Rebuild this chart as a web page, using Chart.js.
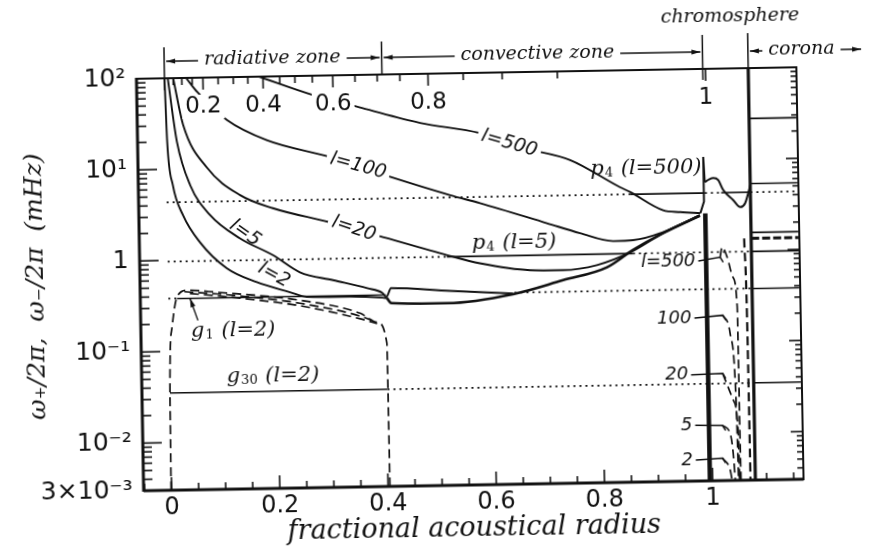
<!DOCTYPE html>
<html>
<head>
<meta charset="utf-8">
<script src="https://cdn.jsdelivr.net/npm/chart.js@4.4.1/dist/chart.umd.min.js"></script>
<style>
  html, body { margin: 0; padding: 0; background: #fff; overflow: hidden; }
  #wrap { position: relative; width: 874px; height: 548px; }
  /* the scanned figure sits about one degree off square */
  #myChart { position: absolute; left: 0; top: 0; transform-origin: 470px 279px; transform: rotate(-1deg); }
</style>
</head>
<body>
<div id="wrap"><canvas id="myChart" width="874" height="548"></canvas></div>
<script>
const ink = '#111';

// omega+ curves, [fractional acoustical radius, mHz]
const l500 = [[0.175, 100], [0.274, 61.4], [0.364, 43.3], [0.471, 28.9], [0.581, 21.8], [0.655, 15.0], [0.747, 10.6], [0.838, 5.23], [0.857, 4.59], [0.917, 2.86], [0.949, 2.71], [0.986, 2.62]];
const l100 = [[0.040, 100], [0.047, 87.7], [0.060, 69.8], [0.114, 33.9], [0.187, 20.0], [0.303, 12.7], [0.400, 8.0], [0.524, 4.6], [0.579, 3.71], [0.702, 2.17], [0.763, 1.66], [0.824, 1.34], [0.861, 1.36], [0.916, 1.64], [0.985, 2.49]];
const l20 = [[0.016, 100], [0.033, 30.5], [0.076, 10.2], [0.136, 5.05], [0.196, 3.58], [0.300, 2.45], [0.390, 1.70], [0.517, 1.01], [0.577, 0.81], [0.669, 0.667], [0.730, 0.657], [0.793, 0.735], [0.855, 1.0], [0.916, 1.6], [0.985, 2.45]];
const l5 = [[0.006, 100], [0.021, 19.9], [0.044, 6.65], [0.080, 3.08], [0.134, 1.70], [0.195, 1.09], [0.244, 0.70], [0.305, 0.565], [0.368, 0.454], [0.396, 0.40], [0.403, 0.36], [0.412, 0.45], [0.520, 0.41], [0.637, 0.372]];
const l2 = [[0.000, 100], [0.003, 20.0], [0.012, 6.7], [0.030, 3.1], [0.060, 1.57], [0.109, 0.80], [0.164, 0.555], [0.225, 0.425], [0.256, 0.375], [0.336, 0.37], [0.396, 0.355], [0.404, 0.35]];
const envelope = [[0.404, 0.35], [0.412, 0.308], [0.515, 0.30], [0.637, 0.366], [0.730, 0.51], [0.812, 0.695], [0.860, 1.06], [0.916, 1.6], [0.985, 2.45]];

// chromosphere / corona
const chromSpike = [[0.986, 2.62], [0.993, 3.5], [0.993, 10.8], [0.995, 5.72]];
const chromCutoff = [[0.995, 5.72], [1.003, 6.1], [1.011, 6.3], [1.020, 5.98], [1.029, 4.63], [1.047, 3.58], [1.060, 2.99], [1.069, 3.30], [1.075, 4.24], [1.079, 5.18]];
const chromEdge = [[0.995, 0.003], [0.995, 2.6]];
const coronaEdge = [[1.079, 0.003], [1.079, 100]];

// omega- curves (dashed)
const gL2 = [[-0.001, 0.003], [0.000, 0.0347], [0.006, 0.185], [0.016, 0.394], [0.035, 0.467], [0.090, 0.438], [0.243, 0.345], [0.354, 0.242], [0.385, 0.191], [0.4025, 0.112], [0.403, 0.0316], [0.4035, 0.003]];
const gInnerA = [[0.030, 0.45], [0.090, 0.42], [0.243, 0.32], [0.354, 0.225], [0.385, 0.191]];
const gInnerB = [[0.040, 0.43], [0.090, 0.40], [0.243, 0.30], [0.354, 0.21], [0.385, 0.185]];
const chrom500 = [[1.021, 0.85], [1.025, 1.10], [1.034, 0.85], [1.044, 0.51], [1.051, 0.238], [1.0515, 0.08], [1.052, 0.0082], [1.0525, 0.003]];
const chrom100 = [[1.024, 0.196], [1.037, 0.124], [1.046, 0.021], [1.048, 0.003]];
const chrom20 = [[1.022, 0.045], [1.041, 0.0227], [1.049, 0.0098], [1.050, 0.003]];
const chrom5 = [[1.020, 0.0121], [1.034, 0.0098], [1.039, 0.0059], [1.042, 0.003]];
const chrom2 = [[1.019, 0.0053], [1.033, 0.00387], [1.036, 0.003]];
const chromOuter = [[1.066, 1.35], [1.069, 0.122], [1.070, 0.003]];

// mode frequencies (mHz) and where they are drawn solid / dotted
const p4l500 = 4.34, p4l5 = 0.97, g1l2 = 0.38, g30l2 = 0.035;
const p4l500Solid = [[0.857, 0.995], [1.025, 1.079]];
const p4l500Dotted = [[0, 0.857], [0.995, 1.025], [1.079, 1.166]];
const p4l5Solid = [[0.516, 0.86], [1.079, 1.166]];
const p4l5Dotted = [[0, 0.516], [0.86, 1.079]];
const g1Solid = [[0.016, 0.402], [1.079, 1.166]];
const g1Dotted = [[0, 0.016], [0.64, 1.079]];
const g30Solid = [[0, 0.402], [1.079, 1.166]];
const g30Dotted = [[0.402, 1.079]];
const coronaSolid = [28, 5.4, 1.57];
const coronaDashed = [1.35];

// axes
const xLabelVals = [0, 0.2, 0.4, 0.6, 0.8, 1];
const xLabelText = ['0', '0.2', '0.4', '0.6', '0.8', '1'];
const yLabelVals = [0.003, 0.01, 0.1, 1, 10, 100];
const yLabelText = ['3×10⁻³', '10⁻²', '10⁻¹', '1', '10¹', '10²'];
const radiusTickAt = [0, 0.016, 0.032, 0.051, 0.071, 0.099, 0.127, 0.154, 0.182, 0.213, 0.241, 0.273, 0.311, 0.352, 0.393, 0.435, 0.487, 0.552, 0.624, 0.726, 1.0];
const radiusLabels = ['0.2', '0.4', '0.6', '0.8', '1'];
const radiusLabelAt = [0.071, 0.182, 0.311, 0.487, 1.0];

const xTickVals = [];
for (let i = -1; i <= 23; i++) xTickVals.push(Math.round(i * 5) / 100);
const yTickVals = [];
[0.001, 0.01, 0.1, 1, 10].forEach(d => {
    for (let m = 1; m <= 9; m++) if (m * d >= 0.003) yTickVals.push(Number((m * d).toPrecision(6)));
});
yTickVals.push(100);

// text placed in the plot
const curveLabels = [
    { text: 'l=500', x: 0.635, y: 16.5, angle: 17, gap: true },
    { text: 'l=100', x: 0.355, y: 10.0, angle: 16, gap: true },
    { text: 'l=20', x: 0.345, y: 2.05, angle: 19, gap: true },
    { text: 'l=5', x: 0.144, y: 1.93, angle: 36, gap: false },
    { text: 'l=2', x: 0.196, y: 0.657, angle: 30, gap: false }
];
const modeLabels = [
    { main: 'p', sub: '4', rest: ' (l=500)', x: 0.885, y: 8.4 },
    { main: 'p', sub: '4', rest: ' (l=5)', x: 0.639, y: 1.36 },
    { main: 'g', sub: '1', rest: ' (l=2)', x: 0.117, y: 0.167 },
    { main: 'g', sub: '30', rest: ' (l=2)', x: 0.189, y: 0.0524 }
];
const chromLabels = [
    { text: 'l=500', x: 0.975, y: 0.78, to: chrom500[0] },
    { text: '100', x: 0.966, y: 0.185, to: chrom100[0] },
    { text: '20', x: 0.958, y: 0.044, to: chrom20[0] },
    { text: '5', x: 0.964, y: 0.0123, to: chrom5[0] },
    { text: '2', x: 0.964, y: 0.0051, to: chrom2[0] }
];
const zones = [
    { text: 'radiative zone', from: 0, to: 0.402, at: 0.2 },
    { text: 'convective zone', from: 0.402, to: 0.995, at: 0.69 },
    { text: 'corona', from: 1.079, to: 1.292, at: 1.178 }
];

function labelFor(v, vals, texts) {
    const i = vals.findIndex(t => Math.abs(t - v) < 1e-6 * Math.max(1, Math.abs(t)) + 1e-9);
    return i < 0 ? '' : texts[i];
}

function curve(points, extra) {
    return Object.assign({
        data: points.map(([x, y]) => ({ x, y })),
        showLine: true, pointRadius: 0, borderColor: ink, borderWidth: 1.9,
        fill: false, cubicInterpolationMode: 'monotone'
    }, extra);
}
const dotted = { borderDash: [2, 4], borderWidth: 1.7, cubicInterpolationMode: 'default', tension: 0 };
const dashed = { borderDash: [9, 5], borderWidth: 1.7 };

const datasets = [
    curve(l500), curve(l100), curve(l20), curve(l5), curve(l2),
    curve(envelope, { borderWidth: 2.6 }),
    curve(chromSpike, { cubicInterpolationMode: 'default', tension: 0, borderWidth: 2 }),
    curve(chromCutoff, { borderWidth: 2 }),
    curve(chromEdge, { cubicInterpolationMode: 'default', tension: 0, borderWidth: 4.5 }),
    curve(coronaEdge, { cubicInterpolationMode: 'default', tension: 0, borderWidth: 3.2 }),
    curve(gL2, dashed), curve(gInnerA, dashed), curve(gInnerB, dashed),
    curve(chrom500, dashed), curve(chrom100, dashed), curve(chrom20, dashed),
    curve(chrom5, dashed), curve(chrom2, dashed),
    curve(chromOuter, Object.assign({}, dashed, { borderWidth: 2.2 }))
];
function level(y, ranges, extra) {
    ranges.forEach(([x0, x1]) => datasets.push(curve([[x0, y], [x1, y]], extra)));
}
level(p4l500, p4l500Solid, { borderWidth: 1.6 });
level(p4l500, p4l500Dotted, dotted);
level(p4l5, p4l5Solid, { borderWidth: 1.6 });
level(p4l5, p4l5Dotted, dotted);
level(g1l2, g1Solid, { borderWidth: 1.6 });
level(g1l2, g1Dotted, dotted);
level(g30l2, g30Solid, { borderWidth: 1.6 });
level(g30l2, g30Dotted, dotted);
coronaSolid.forEach(v => level(v, [[1.079, 1.166]], { borderWidth: 1.6 }));
coronaDashed.forEach(v => level(v, [[1.079, 1.166]], { borderWidth: 3, borderDash: [8, 3] }));

const paper = {
    id: 'paper',
    beforeDraw(chart) {
        const c = chart.ctx;
        c.save();
        c.fillStyle = '#fff';
        c.fillRect(0, 0, chart.width, chart.height);
        c.restore();
    },
    afterDatasetsDraw(chart) {
        const c = chart.ctx, a = chart.chartArea, xs = chart.scales.x, ys = chart.scales.y;
        const X = v => xs.getPixelForValue(v), Y = v => ys.getPixelForValue(v);
        const seg = (x0, y0, x1, y1) => { c.beginPath(); c.moveTo(x0, y0); c.lineTo(x1, y1); c.stroke(); };
        const head = (x, y, dir) => {
            c.beginPath(); c.moveTo(x, y); c.lineTo(x - dir * 9, y - 2.5); c.lineTo(x - dir * 9, y + 2.5);
            c.closePath(); c.fill();
        };
        c.save();
        c.strokeStyle = ink; c.fillStyle = ink; c.setLineDash([]); c.lineCap = 'butt';

        // frame
        c.lineWidth = 2;
        c.strokeRect(a.left, a.top, a.right - a.left, a.bottom - a.top);
        c.lineWidth = 3;
        seg(a.left, a.top - 1, a.left, a.bottom + 1);
        seg(a.left, a.bottom, a.right, a.bottom);

        // inward ticks
        c.lineWidth = 1.6;
        ys.ticks.forEach(t => {
            const yy = Y(t.value), big = labelFor(t.value, yLabelVals, yLabelText) !== '';
            seg(a.left, yy, a.left + (big ? 19 : 9), yy);
            seg(a.right, yy, a.right - (big ? 12 : 6), yy);
        });
        xs.ticks.forEach(t => {
            const xx = X(t.value), big = labelFor(t.value, xLabelVals, xLabelText) !== '';
            seg(xx, a.bottom, xx, a.bottom - (big ? 13 : 7));
        });
        radiusTickAt.forEach((v, i) => {
            const xx = X(v);
            seg(xx, a.top, xx, a.top + (i % 4 === 0 ? 12 : 7));
        });

        // fractional radius along the top
        c.font = '23px "DejaVu Sans"';
        c.textAlign = 'center'; c.textBaseline = 'middle';
        radiusLabelAt.forEach((v, i) => {
            const xx = X(v), w = c.measureText(radiusLabels[i]).width;
            c.fillStyle = '#fff'; c.fillRect(xx - w / 2 - 3, a.top + 17, w + 6, 24);
            c.fillStyle = ink; c.fillText(radiusLabels[i], xx, a.top + 29);
        });

        // l labels on the curves
        c.font = 'italic 19px "DejaVu Sans"';
        curveLabels.forEach(l => {
            const w = c.measureText(l.text).width;
            c.save();
            c.translate(X(l.x), Y(l.y));
            c.rotate(l.angle * Math.PI / 180);
            if (l.gap) { c.fillStyle = '#fff'; c.fillRect(-w / 2 - 4, -9, w + 8, 18); c.fillStyle = ink; }
            c.fillText(l.text, 0, 0);
            c.restore();
        });

        // mode labels with subscripts
        modeLabels.forEach(m => {
            const big = 'italic 21px "DejaVu Serif"', small = '13px "DejaVu Serif"';
            c.font = big;
            const w1 = c.measureText(m.main).width, w3 = c.measureText(m.rest).width;
            c.font = small;
            const w2 = c.measureText(m.sub).width;
            let x0 = X(m.x) - (w1 + w2 + w3) / 2;
            const base = Y(m.y) + 6;
            c.textAlign = 'left'; c.textBaseline = 'alphabetic';
            c.font = big; c.fillText(m.main, x0, base); x0 += w1;
            c.font = small; c.fillText(m.sub, x0 + 1, base + 2); x0 += w2 + 2;
            c.font = big; c.fillText(m.rest, x0, base);
        });

        // arrow from g1 label to its line
        c.lineWidth = 1.4;
        const ax0 = X(0.054), ay0 = Y(0.217), ax1 = X(0.040), ay1 = Y(0.381);
        seg(ax0, ay0, ax1, ay1);
        const ang = Math.atan2(ay1 - ay0, ax1 - ax0);
        c.save(); c.translate(ax1, ay1); c.rotate(ang); head(0, 0, 1); c.restore();

        // l labels at the chromosphere with their hooks
        c.font = 'italic 18px "DejaVu Sans"';
        c.textAlign = 'right'; c.textBaseline = 'middle';
        chromLabels.forEach(l => {
            const xx = X(l.x), yy = Y(l.y);
            c.fillText(l.text, xx, yy);
            c.lineWidth = 1.5;
            c.beginPath();
            c.moveTo(xx + 3, yy);
            c.lineTo(X(l.to[0]), Y(l.to[1]));
            c.lineTo(X(l.to[0]) + 3, Y(l.to[1]) + 5);
            c.stroke();
        });

        // zone header above the frame
        c.lineWidth = 1.5;
        seg(X(0), a.top - 31, X(0), a.top + 2);
        seg(X(0.402), a.top - 33, X(0.402), a.top);
        seg(X(0.995), a.top - 34, X(0.995), a.top + 11);
        seg(X(1.079), a.top - 35, X(1.079), a.top);
        c.font = 'italic 19px "DejaVu Serif"';
        c.textAlign = 'center'; c.textBaseline = 'middle';
        const hy = a.top - 17;
        zones.forEach(z => {
            const x0 = X(z.from) + 2, x1 = X(z.to) - 2, xc = X(z.at);
            const w = c.measureText(z.text).width;
            seg(x0, hy, xc - w / 2 - 6, hy);
            seg(xc + w / 2 + 6, hy, x1, hy);
            head(x0, hy, -1); head(x1, hy, 1);
            c.fillText(z.text, xc, hy - 1);
        });
        c.fillText('chromosphere', X(1.047), a.top - 52);
        c.restore();
    }
};

new Chart(document.getElementById('myChart').getContext('2d'), {
    type: 'scatter',
    data: { datasets: datasets },
    options: {
        responsive: false,
        devicePixelRatio: 1,
        animation: false,
        events: [],
        layout: { padding: { top: 73, right: 74, left: 0, bottom: 0 } },
        plugins: { legend: { display: false }, tooltip: { enabled: false } },
        scales: {
            x: {
                type: 'linear', min: -0.0518, max: 1.168,
                grid: { display: false, drawTicks: false }, border: { display: false },
                afterFit: s => { s.height = 63; },
                afterBuildTicks: s => { s.ticks = xTickVals.map(v => ({ value: v })); },
                ticks: {
                    autoSkip: false, maxRotation: 0, padding: 3, color: ink,
                    font: { family: 'DejaVu Sans', size: 24 },
                    callback: v => labelFor(v, xLabelVals, xLabelText)
                },
                title: {
                    display: true, text: 'fractional acoustical radius', color: ink,
                    font: { family: 'DejaVu Serif', style: 'italic', size: 27 },
                    padding: { top: 0, bottom: 3 }
                }
            },
            y: {
                type: 'logarithmic', min: 0.003, max: 100,
                grid: { display: false, drawTicks: false }, border: { display: false },
                afterFit: s => { s.width = 140; },
                afterBuildTicks: s => { s.ticks = yTickVals.map(v => ({ value: v })); },
                ticks: {
                    autoSkip: false, padding: 11, color: ink,
                    font: { family: 'DejaVu Sans', size: 25 },
                    callback: v => labelFor(v, yLabelVals, yLabelText)
                },
                title: {
                    display: true, text: 'ω₊/2π,  ω₋/2π  (mHz)', color: ink,
                    font: { family: 'DejaVu Serif', style: 'italic', size: 25 },
                    padding: { top: 21, bottom: 0 }
                }
            }
        }
    },
    plugins: [paper]
});
</script>
</body>
</html>
